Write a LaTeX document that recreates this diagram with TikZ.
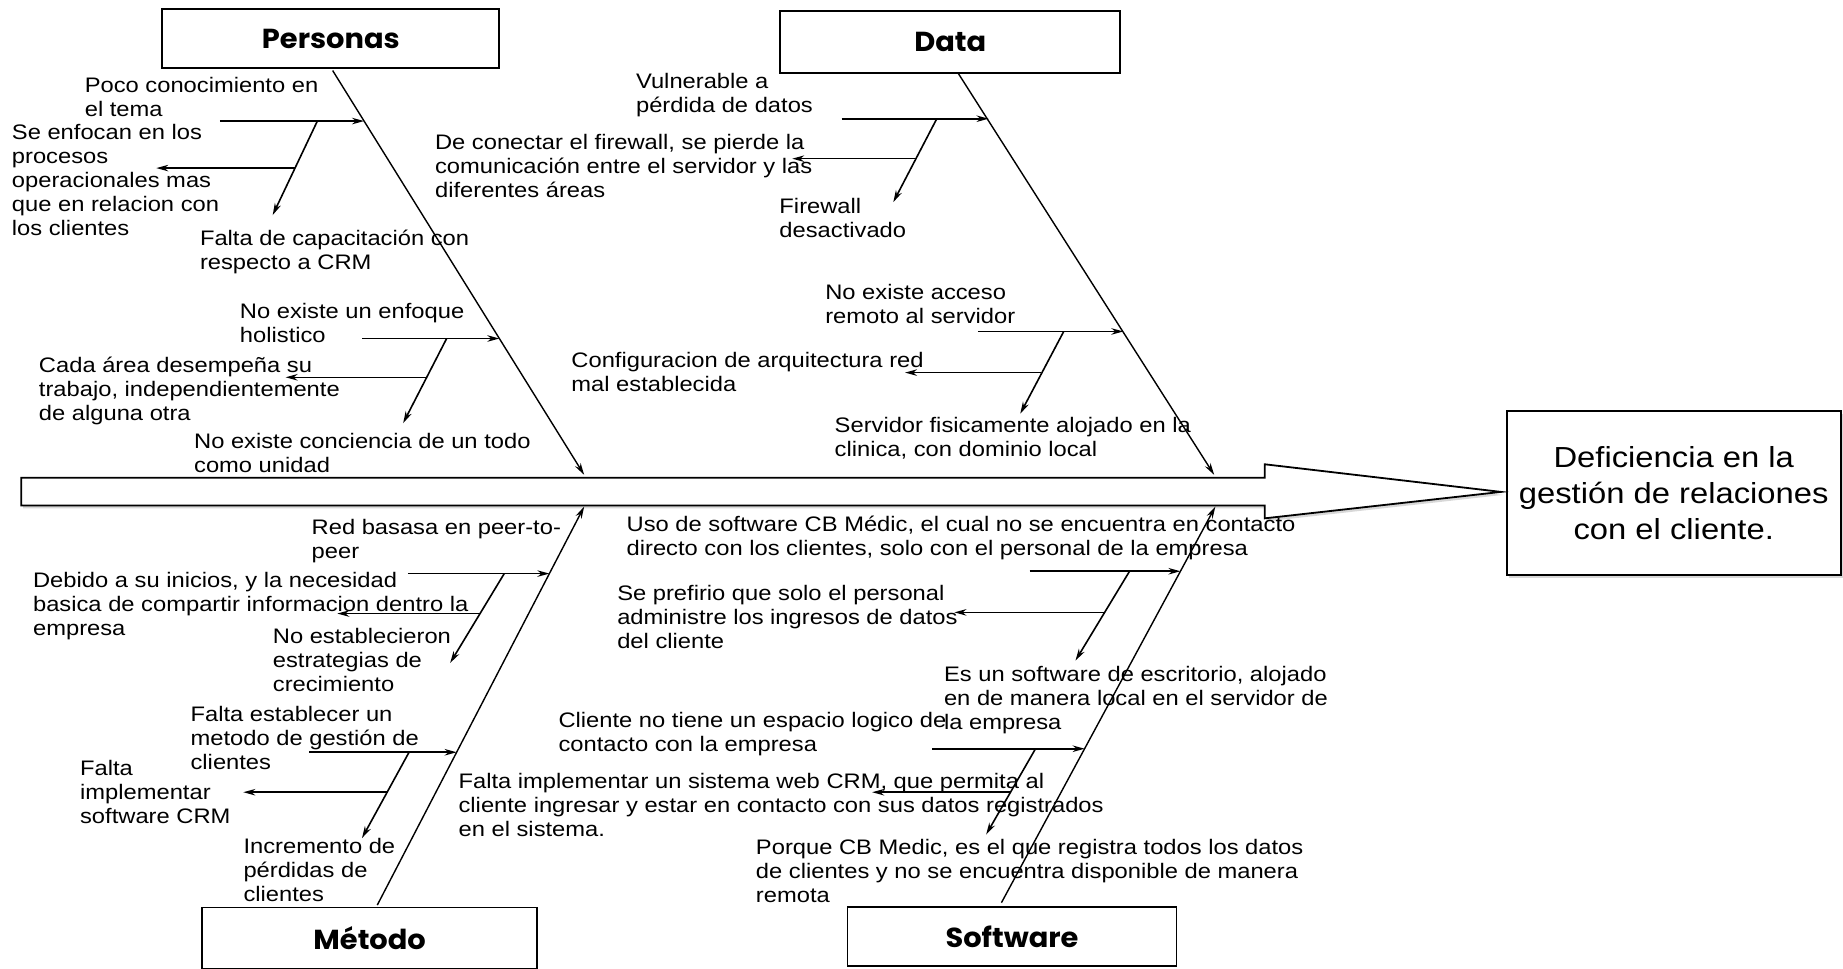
\documentclass[tikz,border=0pt]{standalone}
\usepackage{fontspec}
\setmainfont{Liberation Sans}[FakeStretch=1.13]
\newfontfamily\headfont{Poppins}[FakeStretch=1.05]
\usetikzlibrary{arrows.meta,shadows}
\begin{document}
\begin{tikzpicture}[x=1.1754pt,y=-1.1754pt,
  lbl/.style={anchor=north west,inner sep=0pt,align=left,font=\fontsize{21}{24}\selectfont},
  cat/.style={draw,line width=1.8pt,inner sep=0pt,font=\headfont\bfseries\fontsize{27.5}{30}\selectfont},
  arr/.style={line width=1.6pt,-{Stealth[length=12pt,width=6.5pt]}},
  spine/.style={line width=1.4pt,-{Stealth[length=12pt,width=6.5pt]}},
  shade/.style={drop shadow={opacity=0.3,shadow xshift=2pt,shadow yshift=-3pt}},
]
\useasboundingbox (0,0) rectangle (1568,824);
\fill[white] (0,0) rectangle (1568,824);

% category boxes
\node[cat,minimum width=337pt,minimum height=58.8pt] (personas) at (281.5,33) {Personas};
\node[cat,minimum width=340pt,minimum height=62pt] (data) at (808.5,35.5) {Data};
\node[cat,minimum width=335pt,minimum height=61pt] (metodo) at (314.5,798) {Método};
\node[cat,minimum width=329pt,minimum height=58.8pt] (software) at (861,797) {Software};

% result box
\node[draw,line width=1.8pt,fill=white,shade,minimum width=333.8pt,minimum height=163.4pt,align=center,
      font=\fontsize{29}{36}\selectfont] (result) at (1424,419.5)
      {Deficiencia en la\\gestión de relaciones\\con el cliente.};

% main arrow
\draw[line width=1.8pt,fill=white,shade]
  (18,406.5) -- (1076,406.5) -- (1076,395) -- (1277,418.5) -- (1076,441) -- (1076,430) -- (18,430) -- cycle;

% spines
\coordinate (ps) at (283,60);   \coordinate (pe) at (497,404);
\coordinate (ds) at (815,62);   \coordinate (de) at (1033,404);
\coordinate (ms) at (321,770);  \coordinate (me) at (497,431);
\coordinate (ss) at (852,768);  \coordinate (se) at (1034,431);
\draw[spine] (ps) -- (pe);
\draw[spine] (ds) -- (de);
\draw[spine] (ms) -- (me);
\draw[spine] (ss) -- (se);

% ---- Personas branches
\coordinate (p1h) at (187,103); \coordinate (p1t) at (309.7,103);
\coordinate (p1d) at (270,103); \coordinate (p1e) at (232,183);
\coordinate (p1l) at (251,143); \coordinate (p1m) at (133,143);
\draw[arr] (p1h) -- (p1t);
\draw[arr] (p1d) -- (p1e);
\draw[arr] (p1l) -- (p1m);
\coordinate (p2h) at (308,288); \coordinate (p2t) at (424.8,288);
\coordinate (p2d) at (380,288); \coordinate (p2e) at (343,360);
\coordinate (p2l) at (363,321); \coordinate (p2m) at (243,321);
\draw[arr] (p2h) -- (p2t);
\draw[arr] (p2d) -- (p2e);
\draw[arr] (p2l) -- (p2m);

% ---- Data branches
\coordinate (d1h) at (716,101); \coordinate (d1t) at (841,101);
\coordinate (d1d) at (797,101); \coordinate (d1e) at (760,172);
\coordinate (d1l) at (779,135); \coordinate (d1m) at (674,135);
\draw[arr] (d1h) -- (d1t);
\draw[arr] (d1d) -- (d1e);
\draw[arr] (d1l) -- (d1m);
\coordinate (d2h) at (832,282); \coordinate (d2t) at (955.7,282);
\coordinate (d2d) at (905,282); \coordinate (d2e) at (868,352);
\coordinate (d2l) at (886,317); \coordinate (d2m) at (770,317);
\draw[arr] (d2h) -- (d2t);
\draw[arr] (d2d) -- (d2e);
\draw[arr] (d2l) -- (d2m);

% ---- Metodo branches
\coordinate (m1h) at (347,488); \coordinate (m1t) at (467.4,488);
\coordinate (m1d) at (429,488); \coordinate (m1e) at (383,564);
\coordinate (m1l) at (408,522); \coordinate (m1m) at (287,522);
\draw[arr] (m1h) -- (m1t);
\draw[arr] (m1d) -- (m1e);
\draw[arr] (m1l) -- (m1m);
\coordinate (m2h) at (263,640); \coordinate (m2t) at (388.5,640);
\coordinate (m2d) at (348,640); \coordinate (m2e) at (308,713);
\coordinate (m2l) at (329,674); \coordinate (m2m) at (207,674);
\draw[arr] (m2h) -- (m2t);
\draw[arr] (m2d) -- (m2e);
\draw[arr] (m2l) -- (m2m);

% ---- Software branches
\coordinate (s1h) at (876,486); \coordinate (s1t) at (1004.3,486);
\coordinate (s1d) at (961,486); \coordinate (s1e) at (915,562);
\coordinate (s1l) at (940,521); \coordinate (s1m) at (812,521);
\draw[arr] (s1h) -- (s1t);
\draw[arr] (s1d) -- (s1e);
\draw[arr] (s1l) -- (s1m);
\coordinate (s2h) at (793,637); \coordinate (s2t) at (922.8,637);
\coordinate (s2d) at (881,637); \coordinate (s2e) at (839,710);
\coordinate (s2l) at (860,674); \coordinate (s2m) at (742,674);
\draw[arr] (s2h) -- (s2t);
\draw[arr] (s2d) -- (s2e);
\draw[arr] (s2l) -- (s2m);

% ---- labels
\node[lbl] (t1) at (72,65.5) {Poco conocimiento en\\el tema};
\node[lbl] (t2) at (10,105.5) {Se enfocan en los\\procesos\\operacionales mas\\que en relacion con\\los clientes};
\node[lbl] (t3) at (170,195.5) {Falta de capacitación con\\respecto a CRM};
\node[lbl] (t4) at (204,257.5) {No existe un enfoque\\holistico};
\node[lbl] (t5) at (33,303.5) {Cada área desempeña su\\trabajo, independientemente\\de alguna otra};
\node[lbl] (t6) at (165,368.5) {No existe conciencia de un todo\\como unidad};

\node[lbl] (t7) at (541,62.5) {Vulnerable a\\pérdida de datos};
\node[lbl] (t8) at (370,114.5) {De conectar el firewall, se pierde la\\comunicación entre el servidor y las\\diferentes áreas};
\node[lbl] (t9) at (663,168.5) {Firewall\\desactivado};
\node[lbl] (t10) at (702,241.5) {No existe acceso\\remoto al servidor};
\node[lbl] (t11) at (486,299.5) {Configuracion de arquitectura red\\mal establecida};
\node[lbl] (t12) at (710,354.5) {Servidor fisicamente alojado en la\\clinica, con dominio local};

\node[lbl] (t13) at (265,442) {Red basasa en peer-to-\\peer};
\node[lbl] (t14) at (28,486.5) {Debido a su inicios, y la necesidad\\basica de compartir informacion dentro la\\empresa};
\node[lbl] (t15) at (232,534) {No establecieron\\estrategias de\\crecimiento};
\node[lbl] (t16) at (162,600.5) {Falta establecer un\\metodo de gestión de\\clientes};
\node[lbl] (t17) at (68,647) {Falta\\implementar\\software CRM};
\node[lbl] (t18) at (207,713) {Incremento de\\pérdidas de\\clientes};

\node[lbl] (t19) at (533,438.5) {Uso de software CB Médic, el cual no se encuentra en contacto\\directo con los clientes, solo con el personal de la empresa};
\node[lbl] (t20) at (525,497.5) {Se prefirio que solo el personal\\administre los ingresos de datos\\del cliente};
\node[lbl] (t21) at (803,567) {Es un software de escritorio, alojado\\en de manera local en el servidor de\\la empresa};
\node[lbl] (t22) at (475,606) {Cliente no tiene un espacio logico de\\contacto con la empresa};
\node[lbl] (t23) at (390,657.5) {Falta implementar un sistema web CRM, que permita al\\cliente ingresar y estar en contacto con sus datos registrados\\en el sistema.};
\node[lbl] (t24) at (643,713.5) {Porque CB Medic, es el que registra todos los datos\\de clientes y no se encuentra disponible de manera\\remota};
\end{tikzpicture}
\end{document}
